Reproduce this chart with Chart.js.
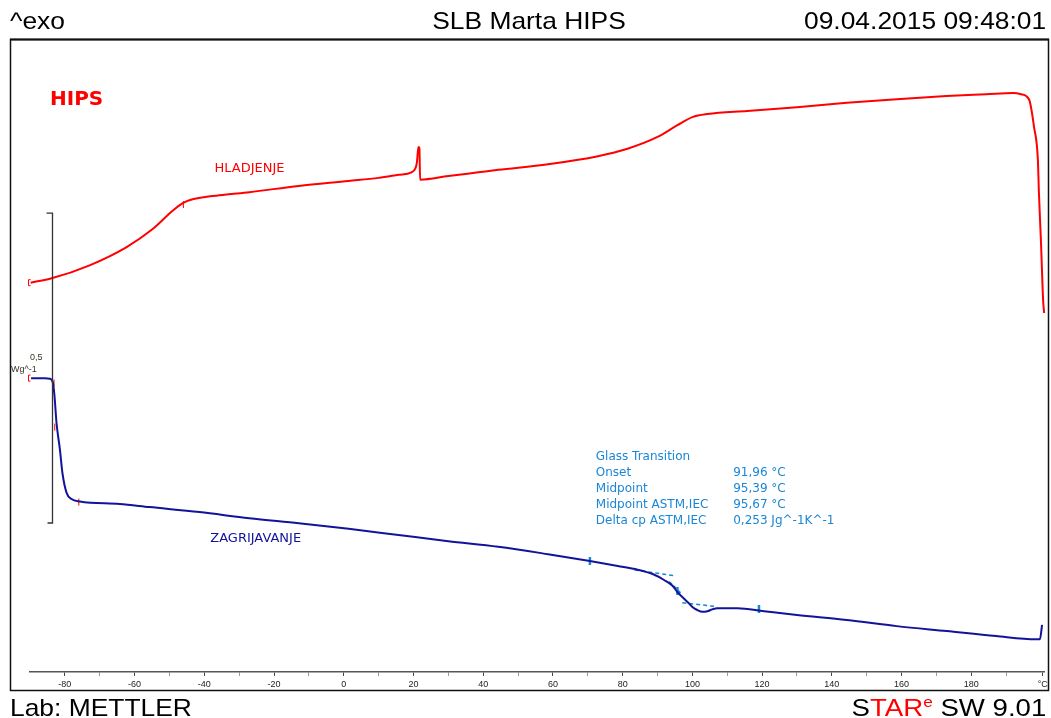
<!DOCTYPE html>
<html>
<head>
<meta charset="utf-8">
<title>SLB Marta HIPS</title>
<script src="https://cdn.jsdelivr.net/npm/chart.js@4.4.1/dist/chart.umd.min.js"></script>
<style>
  html, body { margin: 0; padding: 0; background: #fff; }
  #wrap { position: relative; width: 1051px; height: 718px; overflow: hidden; font-family: "Liberation Sans", Arial, sans-serif; color: #000; }
  #wrap canvas { position: absolute; left: 0; top: 0; }
  .big { position: absolute; font-size: 24px; line-height: 24px; white-space: nowrap; }
  .red { color: #ff0000; }
  sup { font-size: 15px; line-height: 0; vertical-align: 9px; }
</style>
</head>
<body>
<div id="wrap">
  <canvas id="dscChart" width="1051" height="718"></canvas>
  <div class="big" style="left:10px; top:9px; transform:scaleX(1.1); transform-origin:left;">^exo</div>
  <div class="big" style="left:329px; top:9px; width:400px; text-align:center; transform:scaleX(1.1); transform-origin:center;">SLB Marta HIPS</div>
  <div class="big" style="right:5px; top:9px; transform:scaleX(1.1); transform-origin:right;">09.04.2015 09:48:01</div>
  <div class="big" style="left:10px; top:696px; transform:scaleX(1.1); transform-origin:left;">Lab: METTLER</div>
  <div class="big" style="right:5px; top:696px; transform:scaleX(1.15); transform-origin:right;">S<span class="red">TAR<sup>e</sup></span> SW 9.01</div>
</div>
<script>
// --- Data (temperature in °C, heat flow in W/g, curves offset) ---
// cooling run (HLADJENJE)
const coolT = [-89.8, -83.8, -72.9, -62.4, -54.9, -49.1, -46.3, -44.3, -35.7, -27.1, -12.9, 1.4, 10.0, 15.7, 19.4, 20.6, 21.0, 21.4, 21.7, 21.9, 30.0, 38.6, 44.3, 58.6, 72.9, 81.4, 90.0, 95.7, 100.0, 104.3, 115.7, 130.0, 144.3, 158.6, 172.9, 184.3, 192.0, 194.3, 196.6, 198.0, 199.1, 199.4, 200.0, 200.6, 200.9];
const coolW = [0.628, 0.635, 0.656, 0.685, 0.714, 0.744, 0.756, 0.761, 0.769, 0.774, 0.784, 0.792, 0.797, 0.802, 0.806, 0.813, 0.823, 0.847, 0.845, 0.794, 0.800, 0.806, 0.810, 0.819, 0.832, 0.844, 0.863, 0.882, 0.895, 0.900, 0.905, 0.911, 0.918, 0.924, 0.929, 0.932, 0.934, 0.932, 0.923, 0.879, 0.826, 0.773, 0.692, 0.600, 0.579];

// heating run (ZAGRIJAVANJE)
const heatT = [-89.7, -85.7, -84.3, -83.5, -83.0, -82.4, -81.4, -80.7, -79.5, -78.1, -75.7, -64.3, -55.7, -41.4, -27.1, -12.9, 1.4, 15.7, 30.0, 44.3, 58.6, 70.6, 78.6, 84.3, 88.6, 92.0, 94.3, 95.7, 97.1, 98.6, 100.0, 101.4, 102.9, 104.3, 105.7, 107.1, 112.9, 120.6, 130.0, 144.3, 158.6, 172.9, 187.1, 198.6, 199.7, 200.3];
const heatW = [0.474, 0.474, 0.473, 0.468, 0.447, 0.402, 0.358, 0.321, 0.289, 0.279, 0.275, 0.271, 0.266, 0.258, 0.248, 0.240, 0.231, 0.221, 0.211, 0.202, 0.190, 0.179, 0.171, 0.165, 0.158, 0.148, 0.139, 0.129, 0.121, 0.113, 0.105, 0.100, 0.097, 0.098, 0.101, 0.103, 0.103, 0.098, 0.092, 0.084, 0.074, 0.066, 0.058, 0.053, 0.053, 0.076];

// glass transition evaluation construction lines
const gtPreT = [83.4, 94.9];
const gtPreW = [0.1645, 0.1553];
const gtPostT = [97.1, 107.1];
const gtPostW = [0.1118, 0.1053];
const gtTanT = [93.3, 96.7];
const gtTanW = [0.1456, 0.1269];
const gtMarkT = [70.6, 95.7, 119.1];
const gtMarkW = [0.179, 0.1306, 0.1016];

// evaluation limit marks
const limitT = [-83.1, -82.9, -76.0, -46.0];
const limitW = [0.466, 0.395, 0.274, 0.754];

// axis
const xMin = -90;
const xMax = 201;
const xTickValues = [-80, -60, -40, -20, 0, 20, 40, 60, 80, 100, 120, 140, 160, 180, 200.5];
const xTickLabels = ['-80', '-60', '-40', '-20', '0', '20', '40', '60', '80', '100', '120', '140', '160', '180', '°C'];
const xMinorTicks = [-70, -50, -30, -10, 10, 30, 50, 70, 90, 110, 130, 150, 170, 190];

// texts
const gtTitle = 'Glass Transition';
const gtLabels = ['Onset', 'Midpoint', 'Midpoint ASTM,IEC', 'Delta cp ASTM,IEC'];
const gtValues = ['91,96 °C', '95,39 °C', '95,67 °C', '0,253 Jg^-1K^-1'];
const scaleBarT = -83.7;
const scaleBarW = [0.2403, 0.7403];   // 0,5 W/g
const scaleBarLabel = ['0,5', 'Wg^-1'];

const RED = '#ff0000';
const NAVY = '#13139a';
const EVAL = '#1a86d6';

function pts(xs, ys) {
    return xs.map((v, i) => ({ x: v, y: ys[i] }));
}

// --- Decoration plugin: frame, scale bar, labels ---
const decorPlugin = {
    id: 'decor',
    afterDraw(chart) {
        const { ctx, scales: { x, y } } = chart;
        ctx.save();

        // outer frame
        ctx.strokeStyle = '#111';
        ctx.lineWidth = 1.5;
        ctx.strokeRect(10.5, 39.5, 1038, 651);
        ctx.beginPath();
        ctx.lineWidth = 2;
        ctx.moveTo(10, 39.5);
        ctx.lineTo(1049, 39.5);
        ctx.stroke();

        // scale bar
        const bx = Math.round(x.getPixelForValue(scaleBarT)) + 0.5;
        const by0 = y.getPixelForValue(scaleBarW[0]);
        const by1 = y.getPixelForValue(scaleBarW[1]);
        ctx.strokeStyle = '#333';
        ctx.lineWidth = 1.3;
        ctx.beginPath();
        ctx.moveTo(bx - 6, by1);
        ctx.lineTo(bx, by1);
        ctx.lineTo(bx, by0);
        ctx.lineTo(bx - 5, by0);
        ctx.stroke();
        ctx.fillStyle = '#3a3320';
        ctx.font = '9px "Liberation Sans"';
        ctx.textBaseline = 'alphabetic';
        ctx.fillText(scaleBarLabel[0], 30, 360);
        ctx.fillText(scaleBarLabel[1], 11, 372);

        // start brackets of both curves
        ctx.strokeStyle = RED;
        ctx.lineWidth = 1;
        [[coolT[0], coolW[0]], [heatT[0], heatW[0]]].forEach(([t, w]) => {
            const px = Math.round(x.getPixelForValue(t)) - 2.5;
            const py = y.getPixelForValue(w);
            ctx.beginPath();
            ctx.moveTo(px + 2, py - 3);
            ctx.lineTo(px, py - 3);
            ctx.lineTo(px, py + 3);
            ctx.lineTo(px + 2, py + 3);
            ctx.stroke();
        });

        // sample name
        ctx.fillStyle = RED;
        ctx.font = 'bold 20px "DejaVu Sans"';
        ctx.fillText('HIPS', 50, 105);

        // curve names
        ctx.font = '13px "DejaVu Sans"';
        ctx.fillText('HLADJENJE', x.getPixelForValue(-37.1), y.getPixelForValue(0.8145) + 5);
        ctx.fillStyle = NAVY;
        ctx.fillText('ZAGRIJAVANJE', x.getPixelForValue(-38.3), y.getPixelForValue(0.2177) + 5);

        // glass transition results
        ctx.fillStyle = EVAL;
        ctx.font = '12px "DejaVu Sans"';
        const ax = x.getPixelForValue(72.3);
        const vx = x.getPixelForValue(111.7);
        const ay = y.getPixelForValue(0.3427);
        ctx.fillText(gtTitle, ax, ay);
        gtLabels.forEach((lab, i) => {
            ctx.fillText(lab, ax, ay + 16 * (i + 1));
            ctx.fillText(gtValues[i], vx, ay + 16 * (i + 1));
        });

        ctx.restore();
    }
};

const ctx = document.getElementById('dscChart').getContext('2d');
Chart.defaults.font.family = '"Liberation Sans", Arial, sans-serif';

new Chart(ctx, {
    type: 'line',
    data: {
        datasets: [
            {
                label: 'HLADJENJE',
                data: pts(coolT, coolW),
                borderColor: RED,
                borderWidth: 2,
                pointRadius: 0,
                cubicInterpolationMode: 'monotone',
                clip: 4
            },
            {
                label: 'ZAGRIJAVANJE',
                data: pts(heatT, heatW),
                borderColor: NAVY,
                borderWidth: 2,
                pointRadius: 0,
                cubicInterpolationMode: 'monotone',
                clip: 4
            },
            {
                label: 'baseline before',
                data: pts(gtPreT, gtPreW),
                borderColor: EVAL,
                borderWidth: 1.5,
                borderDash: [4, 3],
                pointRadius: 0
            },
            {
                label: 'baseline after',
                data: pts(gtPostT, gtPostW),
                borderColor: EVAL,
                borderWidth: 1.5,
                borderDash: [4, 3],
                pointRadius: 0
            },
            {
                label: 'tangent',
                data: pts(gtTanT, gtTanW),
                borderColor: EVAL,
                borderWidth: 2,
                borderDash: [4, 2],
                pointRadius: 0
            },
            {
                label: 'evaluation points',
                type: 'scatter',
                data: pts(gtMarkT, gtMarkW),
                borderColor: EVAL,
                backgroundColor: EVAL,
                borderWidth: 2.5,
                pointStyle: 'line',
                rotation: 90,
                pointRadius: 4
            },
            {
                label: 'limits',
                type: 'scatter',
                data: pts(limitT, limitW),
                borderColor: RED,
                backgroundColor: RED,
                borderWidth: 1,
                pointStyle: 'line',
                rotation: 90,
                pointRadius: 3.5
            }
        ]
    },
    options: {
        responsive: false,
        animation: false,
        devicePixelRatio: 1,
        layout: { padding: { left: 30, right: 3, top: 40, bottom: 0 } },
        plugins: {
            legend: { display: false },
            tooltip: { enabled: false },
            title: { display: false }
        },
        scales: {
            x: {
                type: 'linear',
                position: 'bottom',
                min: xMin,
                max: xMax,
                afterBuildTicks: (s) => {
                    s.ticks = xTickValues.concat(xMinorTicks)
                        .sort((a, b) => a - b)
                        .map(v => ({ value: v }));
                },
                afterFit: (s) => {
                    s.height = 46;
                    s.paddingLeft = 0;
                    s.paddingRight = 0;
                },
                border: { display: true, color: '#555', width: 1.5 },
                grid: {
                    drawOnChartArea: false,
                    drawTicks: true,
                    tickLength: 4,
                    tickColor: (c) => xTickValues.includes(c.tick && c.tick.value) ? '#444' : '#999',
                    tickWidth: 1
                },
                ticks: {
                    autoSkip: false,
                    maxRotation: 0,
                    padding: 3,
                    color: '#222',
                    font: { size: 9 },
                    callback: (value) => {
                        const i = xTickValues.indexOf(value);
                        return i >= 0 ? xTickLabels[i] : '';
                    }
                }
            },
            y: {
                display: false,
                min: 0,
                max: 1.0194
            }
        }
    },
    plugins: [decorPlugin]
});
</script>
</body>
</html>
